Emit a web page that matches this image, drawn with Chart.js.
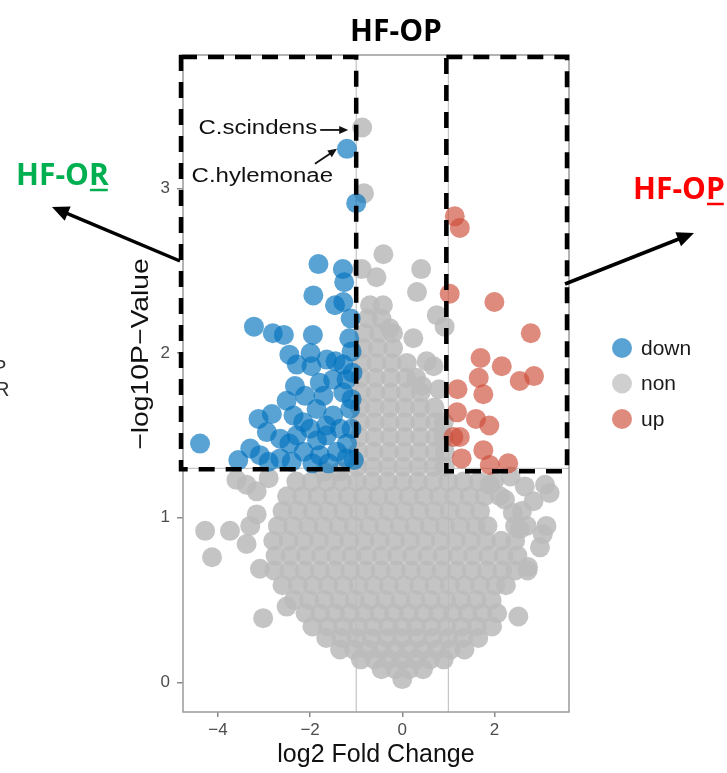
<!DOCTYPE html>
<html>
<head>
<meta charset="utf-8">
<script src="https://cdn.jsdelivr.net/npm/chart.js@4.4.1/dist/chart.umd.min.js"></script>
<style>
  body { margin: 0; background: #fff; }
  canvas { display: block; }
</style>
</head>
<body>
<canvas id="volcano" width="727" height="773"></canvas>
<script>
const xTicks = [-4, -2, 0, 2]
const yTicks = [0, 1, 2, 3]
const groups = ['down', 'non', 'up']
const fcCut = 1
const pCut = 1.3

// log2 fold change, -log10 p
const downPts = [
    [-1.20, 3.24], [-1.00, 2.91],
    [-1.82, 2.54], [-1.29, 2.51], [-1.26, 2.43], [-1.93, 2.35], [-1.46, 2.29], [-1.28, 2.31], [-1.12, 2.21],
    [-3.22, 2.16], [-2.81, 2.12], [-2.57, 2.11], [-1.94, 2.11], [-1.15, 2.09], [-1.10, 2.01],
    [-2.45, 1.99], [-1.99, 2.00], [-1.64, 1.96], [-2.29, 1.93], [-1.97, 1.92], [-1.28, 1.93], [-1.45, 1.95],
    [-2.33, 1.80], [-1.79, 1.82], [-1.50, 1.84], [-1.21, 1.84], [-1.08, 1.88],
    [-2.51, 1.71], [-2.11, 1.74], [-1.71, 1.74], [-1.28, 1.76], [-1.10, 1.72],
    [-3.12, 1.60], [-2.83, 1.63], [-2.36, 1.62], [-1.86, 1.66], [-1.50, 1.62], [-1.13, 1.66], [-2.15, 1.58], [-1.65, 1.56],
    [-4.39, 1.45], [-3.30, 1.42], [-2.94, 1.52], [-2.65, 1.48], [-2.29, 1.50], [-2.00, 1.54], [-1.64, 1.50],
    [-1.35, 1.54], [-1.10, 1.54], [-1.85, 1.47], [-2.45, 1.45], [-1.20, 1.45],
    [-3.56, 1.35], [-3.09, 1.38], [-2.65, 1.36], [-2.14, 1.40], [-1.79, 1.38], [-1.42, 1.40], [-1.21, 1.36],
    [-2.90, 1.34], [-2.40, 1.34], [-1.95, 1.33], [-1.60, 1.33], [-1.05, 1.35]
]
const upPts = [
    [1.14, 2.83], [1.25, 2.76], [1.03, 2.36], [2.00, 2.31], [2.79, 2.12], [1.70, 1.97], [2.16, 1.92],
    [1.66, 1.85], [2.55, 1.83], [2.86, 1.86], [1.20, 1.78], [1.76, 1.75], [1.19, 1.64], [1.60, 1.60],
    [1.89, 1.56], [1.11, 1.49], [1.76, 1.41], [1.29, 1.36], [1.90, 1.32], [2.30, 1.33], [1.25, 1.49]
]
const nonPts = [
    [-0.87, 3.37], [-0.83, 2.97], [-0.41, 2.60], [-0.88, 2.51], [-0.56, 2.46], [0.41, 2.51], [0.32, 2.37],
    [0.75, 2.23], [0.92, 2.16], [0.24, 2.09], [0.53, 1.95], [0.68, 1.92], [0.43, 1.80], [0.80, 1.78], [-0.27, 2.15],
    [0.00, 0.02],
    [-0.45, 0.08], [-0.15, 0.08], [0.15, 0.08], [0.45, 0.08],
    [-0.90, 0.14], [-0.60, 0.14], [-0.30, 0.14], [0.00, 0.14], [0.30, 0.14], [0.60, 0.14], [0.90, 0.14],
    [-1.35, 0.20], [-1.05, 0.20], [-0.75, 0.20], [-0.45, 0.20], [-0.15, 0.20], [0.15, 0.20], [0.45, 0.20], [0.75, 0.20], [1.05, 0.20], [1.35, 0.20],
    [-1.65, 0.27], [-1.32, 0.27], [-0.99, 0.27], [-0.66, 0.27], [-0.33, 0.27], [0.00, 0.27], [0.33, 0.27], [0.66, 0.27], [0.99, 0.27], [1.32, 0.27], [1.65, 0.27],
    [-1.95, 0.34], [-1.62, 0.34], [-1.29, 0.34], [-0.96, 0.34], [-0.63, 0.34], [-0.30, 0.34], [0.00, 0.34], [0.30, 0.34], [0.63, 0.34], [0.96, 0.34], [1.29, 0.34], [1.62, 0.34], [1.95, 0.34],
    [-2.10, 0.42], [-1.78, 0.42], [-1.46, 0.42], [-1.14, 0.42], [-0.82, 0.42], [-0.50, 0.42], [-0.18, 0.42], [0.14, 0.42], [0.46, 0.42], [0.78, 0.42], [1.10, 0.42], [1.42, 0.42], [1.74, 0.42], [2.06, 0.42],
    [-2.35, 0.50], [-2.02, 0.50], [-1.69, 0.50], [-1.36, 0.50], [-1.03, 0.50], [-0.70, 0.50], [-0.37, 0.50], [-0.04, 0.50], [0.29, 0.50], [0.62, 0.50], [0.95, 0.50], [1.28, 0.50], [1.61, 0.50], [1.94, 0.50],
    [-2.60, 0.59], [-2.27, 0.59], [-1.94, 0.59], [-1.61, 0.59], [-1.28, 0.59], [-0.95, 0.59], [-0.62, 0.59], [-0.29, 0.59], [0.04, 0.59], [0.37, 0.59], [0.70, 0.59], [1.03, 0.59], [1.36, 0.59], [1.69, 0.59], [2.02, 0.59], [2.25, 0.59],
    [-2.78, 0.68], [-2.45, 0.68], [-2.12, 0.68], [-1.79, 0.68], [-1.46, 0.68], [-1.13, 0.68], [-0.80, 0.68], [-0.47, 0.68], [-0.14, 0.68], [0.19, 0.68], [0.52, 0.68], [0.85, 0.68], [1.18, 0.68], [1.51, 0.68], [1.84, 0.68], [2.17, 0.68], [2.45, 0.68], [2.72, 0.68],
    [-2.75, 0.77], [-2.42, 0.77], [-2.09, 0.77], [-1.76, 0.77], [-1.43, 0.77], [-1.10, 0.77], [-0.77, 0.77], [-0.44, 0.77], [-0.11, 0.77], [0.22, 0.77], [0.55, 0.77], [0.88, 0.77], [1.21, 0.77], [1.54, 0.77], [1.87, 0.77], [2.20, 0.77], [2.50, 0.77],
    [-2.80, 0.86], [-2.47, 0.86], [-2.14, 0.86], [-1.81, 0.86], [-1.48, 0.86], [-1.15, 0.86], [-0.82, 0.86], [-0.49, 0.86], [-0.16, 0.86], [0.17, 0.86], [0.50, 0.86], [0.83, 0.86], [1.16, 0.86], [1.49, 0.86], [1.82, 0.86], [2.15, 0.86], [2.45, 0.86],
    [-2.70, 0.95], [-2.37, 0.95], [-2.04, 0.95], [-1.71, 0.95], [-1.38, 0.95], [-1.05, 0.95], [-0.72, 0.95], [-0.39, 0.95], [-0.06, 0.95], [0.27, 0.95], [0.60, 0.95], [0.93, 0.95], [1.26, 0.95], [1.59, 0.95], [1.85, 0.95], [2.45, 0.95], [2.70, 0.95],
    [-2.60, 1.04], [-2.27, 1.04], [-1.94, 1.04], [-1.61, 1.04], [-1.28, 1.04], [-0.95, 1.04], [-0.62, 1.04], [-0.29, 1.04], [0.04, 1.04], [0.37, 1.04], [0.70, 1.04], [1.03, 1.04], [1.36, 1.04], [1.69, 1.04], [2.60, 1.04],
    [-2.50, 1.13], [-2.17, 1.13], [-1.84, 1.13], [-1.51, 1.13], [-1.18, 1.13], [-0.85, 1.13], [-0.52, 1.13], [-0.19, 1.13], [0.14, 1.13], [0.47, 1.13], [0.80, 1.13], [1.13, 1.13], [1.46, 1.13], [1.79, 1.13], [2.12, 1.13],
    [-2.30, 1.22], [-1.97, 1.22], [-1.64, 1.22], [-1.31, 1.22], [-0.98, 1.22], [-0.65, 1.22], [-0.32, 1.22], [0.01, 1.22], [0.34, 1.22], [0.67, 1.22], [1.00, 1.22], [1.33, 1.22], [1.66, 1.22], [1.99, 1.22],
    [-1.70, 1.28], [-1.35, 1.28],
    [-0.97, 1.31], [-0.64, 1.31], [-0.31, 1.31], [0.02, 1.31], [0.35, 1.31], [0.68, 1.31], [0.92, 1.31],
    [-0.95, 1.40], [-0.62, 1.40], [-0.29, 1.40], [0.04, 1.40], [0.37, 1.40], [0.70, 1.40], [0.92, 1.40],
    [-0.93, 1.49], [-0.60, 1.49], [-0.27, 1.49], [0.06, 1.49], [0.39, 1.49], [0.72, 1.49], [0.90, 1.49],
    [-0.92, 1.58], [-0.60, 1.58], [-0.27, 1.58], [0.06, 1.58], [0.39, 1.58], [0.72, 1.58], [0.90, 1.58],
    [-0.92, 1.67], [-0.60, 1.67], [-0.27, 1.67], [0.06, 1.67], [0.39, 1.67], [0.70, 1.67],
    [-0.90, 1.76], [-0.58, 1.76], [-0.25, 1.76], [0.08, 1.76], [0.40, 1.76],
    [-0.90, 1.85], [-0.58, 1.85], [-0.25, 1.85], [0.08, 1.85], [0.30, 1.85],
    [-0.88, 1.94], [-0.56, 1.94], [-0.23, 1.94], [0.10, 1.94],
    [-0.85, 2.03], [-0.53, 2.03], [-0.20, 2.03],
    [-0.82, 2.12], [-0.50, 2.12], [-0.20, 2.12],
    [-0.75, 2.21], [-0.45, 2.21],
    [-0.70, 2.29], [-0.42, 2.29],
    [-4.28, 0.92], [-3.74, 0.92], [-4.13, 0.76], [-3.38, 0.84], [-3.02, 0.39], [-3.16, 1.02], [-3.30, 0.95],
    [-3.09, 0.69], [-2.51, 0.46], [-3.16, 1.16], [-3.38, 1.20], [-3.60, 1.23], [-2.90, 1.24],
    [3.10, 1.20], [2.66, 1.19], [1.90, 1.20], [2.23, 1.11], [3.13, 0.95], [3.05, 0.90], [2.99, 0.82],
    [2.73, 0.70], [2.52, 0.40], [2.35, 1.25], [2.40, 1.03], [2.55, 0.93], [2.85, 1.10], [3.20, 1.15]
]

const colors = {
    down: 'rgba(0,114,189,0.65)',
    non: 'rgba(188,188,188,0.88)',
    up: 'rgba(205,75,55,0.65)'
}
const toXY = (pts) => pts.map(([x, y]) => ({ x, y }))
const minus = (v) => v < 0 ? '\u2212' + Math.abs(v) : String(v)

const arrow = (ctx, x1, y1, x2, y2, lw, head) => {
    const ang = Math.atan2(y2 - y1, x2 - x1)
    ctx.lineWidth = lw
    ctx.beginPath()
    ctx.moveTo(x1, y1)
    ctx.lineTo(x2 - Math.cos(ang) * head * 0.8, y2 - Math.sin(ang) * head * 0.8)
    ctx.stroke()
    ctx.beginPath()
    ctx.moveTo(x2, y2)
    ctx.lineTo(x2 - head * Math.cos(ang) + head * 0.45 * Math.sin(ang), y2 - head * Math.sin(ang) - head * 0.45 * Math.cos(ang))
    ctx.lineTo(x2 - head * Math.cos(ang) - head * 0.45 * Math.sin(ang), y2 - head * Math.sin(ang) + head * 0.45 * Math.cos(ang))
    ctx.closePath()
    ctx.fill()
}

const wideText = (ctx, text, x, y, sx, align) => {
    ctx.save()
    ctx.translate(x, y)
    ctx.scale(sx, 1)
    ctx.textAlign = align
    ctx.fillText(text, 0, 0)
    ctx.restore()
}

const underlinedLast = (ctx, text, x, y, color) => {
    ctx.fillStyle = color
    ctx.strokeStyle = color
    ctx.textAlign = 'left'
    ctx.fillText(text, x, y)
    const start = x + ctx.measureText(text.slice(0, -1)).width
    const end = x + ctx.measureText(text).width
    ctx.lineWidth = 2.5
    ctx.beginPath()
    ctx.moveTo(start + 1, y + 5)
    ctx.lineTo(end - 1, y + 5)
    ctx.stroke()
}

const overlay = {
    id: 'overlay',
    beforeDatasetsDraw(chart) {
        const { ctx, chartArea: a, scales: { x, y } } = chart
        ctx.save()
        ctx.strokeStyle = '#b9b9b9'
        ctx.lineWidth = 1
        ctx.beginPath()
        ;[-fcCut, fcCut].forEach(v => {
            const px = x.getPixelForValue(v)
            ctx.moveTo(px, a.top)
            ctx.lineTo(px, a.bottom)
        })
        const py = y.getPixelForValue(pCut)
        ctx.moveTo(a.left, py)
        ctx.lineTo(a.right, py)
        ctx.stroke()
        ctx.restore()
    },
    afterDatasetsDraw(chart) {
        const { ctx, chartArea: a, scales: { x, y } } = chart
        ctx.save()
        ctx.strokeStyle = '#9a9a9a'
        ctx.lineWidth = 1.5
        ctx.strokeRect(a.left, a.top, a.right - a.left, a.bottom - a.top)

        // dashed selection boxes
        ctx.strokeStyle = '#000'
        ctx.lineWidth = 4.5
        ctx.setLineDash([16, 11])
        const yCut = y.getPixelForValue(pCut)
        ctx.strokeRect(a.left - 2, a.top + 2, x.getPixelForValue(-fcCut) - a.left + 2, yCut - a.top - 1)
        const rx = x.getPixelForValue(fcCut) - 2
        ctx.strokeRect(rx, a.top + 2, a.right - 2 - rx, yCut - a.top + 1)
        ctx.setLineDash([])

        // labelled taxa
        ctx.fillStyle = '#111'
        ctx.strokeStyle = '#111'
        ctx.font = '20px "Liberation Sans", Arial, sans-serif'
        ctx.textBaseline = 'alphabetic'
        const sc = { x: x.getPixelForValue(nonPts[0][0]), y: y.getPixelForValue(nonPts[0][1]) }
        wideText(ctx, 'C.scindens', sc.x - 45, sc.y + 7, 1.2, 'right')
        arrow(ctx, sc.x - 42, sc.y + 2.5, sc.x - 14, sc.y + 2.5, 1.8, 9)
        const hy = { x: x.getPixelForValue(downPts[0][0]), y: y.getPixelForValue(downPts[0][1]) }
        wideText(ctx, 'C.hylemonae', hy.x - 14, hy.y + 33, 1.2, 'right')
        arrow(ctx, hy.x - 32, hy.y + 15, hy.x - 10, hy.y, 1.8, 9)
        ctx.restore()
    },
    afterDraw(chart) {
        const { ctx, chartArea: a } = chart
        ctx.save()
        // title
        ctx.fillStyle = '#000'
        ctx.font = 'bold 30px "Open Sans", sans-serif'
        ctx.textAlign = 'center'
        ctx.textBaseline = 'alphabetic'
        ctx.fillText('HF-OP', 396, 41)

        // axis titles
        ctx.font = '25px "Liberation Sans", Arial, sans-serif'
        ctx.fillStyle = '#111'
        ctx.fillText('log2 Fold Change', 376, 762)
        ctx.save()
        ctx.translate(148, 354)
        ctx.rotate(-Math.PI / 2)
        ctx.font = '24px "Liberation Sans", Arial, sans-serif'
        wideText(ctx, '\u2212log10P\u2212Value', 0, 0, 1.18, 'center')
        ctx.restore()

        // legend
        ctx.font = '21px "Liberation Sans", Arial, sans-serif'
        ctx.textAlign = 'left'
        ctx.textBaseline = 'middle'
        groups.forEach((g, i) => {
            const cy = 348 + i * 35.5
            ctx.fillStyle = g === 'non' ? 'rgba(175,175,175,0.6)' : colors[g]
            ctx.beginPath()
            ctx.arc(622, cy, 10, 0, Math.PI * 2)
            ctx.fill()
            ctx.fillStyle = '#1a1a1a'
            ctx.fillText(g, 641, cy + 1)
        })

        // group labels and arrows outside the panel
        ctx.textBaseline = 'alphabetic'
        ctx.font = 'bold 30px "Open Sans", sans-serif'
        underlinedLast(ctx, 'HF-OR', 16, 185, '#00b050')
        underlinedLast(ctx, 'HF-OP', 633, 199, '#ff0000')
        ctx.fillStyle = '#000'
        ctx.strokeStyle = '#000'
        arrow(ctx, a.left - 3, 261, 52, 207, 3.5, 17)
        arrow(ctx, a.right - 4, 284, 694, 233, 3.5, 17)

        // cut-off letters at the left edge
        ctx.font = '20px "Liberation Sans", Arial, sans-serif'
        ctx.fillStyle = '#333'
        ctx.fillText('P', -7, 374)
        ctx.fillText('R', -5, 396)
        ctx.restore()
    }
}

const ctx = document.querySelector('#volcano').getContext('2d')

new Chart(ctx, {
    type: 'scatter',
    data: {
        datasets: [
            { label: 'down', data: toXY(downPts), backgroundColor: colors.down, order: 1 },
            { label: 'up', data: toXY(upPts), backgroundColor: colors.up, order: 2 },
            { label: 'non', data: toXY(nonPts), backgroundColor: colors.non, order: 3 }
        ]
    },
    options: {
        responsive: false,
        animation: false,
        elements: {
            point: { radius: 10, borderWidth: 0, hoverRadius: 10 }
        },
        layout: {
            autoPadding: false,
            padding: { top: 55, right: 158, bottom: 0, left: 0 }
        },
        scales: {
            x: {
                type: 'linear',
                min: -4.76,
                max: 3.62,
                afterBuildTicks: (axis) => { axis.ticks = xTicks.map(v => ({ value: v })) },
                afterFit: (axis) => { axis.height = 61 },
                grid: { drawOnChartArea: false, drawTicks: true, tickLength: 5, color: '#8a8a8a', lineWidth: 1.5 },
                border: { display: false },
                ticks: {
                    autoSkip: false,
                    maxRotation: 0,
                    padding: 3,
                    color: '#4d4d4d',
                    font: { family: '"Liberation Sans", Arial, sans-serif', size: 17 },
                    callback: (v) => minus(v)
                }
            },
            y: {
                type: 'linear',
                min: -0.18,
                max: 3.81,
                afterBuildTicks: (axis) => { axis.ticks = yTicks.map(v => ({ value: v })) },
                afterFit: (axis) => { axis.width = 183 },
                grid: { drawOnChartArea: false, drawTicks: true, tickLength: 6, color: '#8a8a8a', lineWidth: 1.5 },
                border: { display: false },
                ticks: {
                    padding: 7,
                    color: '#4d4d4d',
                    font: { family: '"Liberation Sans", Arial, sans-serif', size: 17 },
                    callback: (v) => minus(v)
                }
            }
        },
        plugins: {
            legend: { display: false },
            tooltip: { enabled: false }
        }
    },
    plugins: [overlay]
})
</script>
</body>
</html>
